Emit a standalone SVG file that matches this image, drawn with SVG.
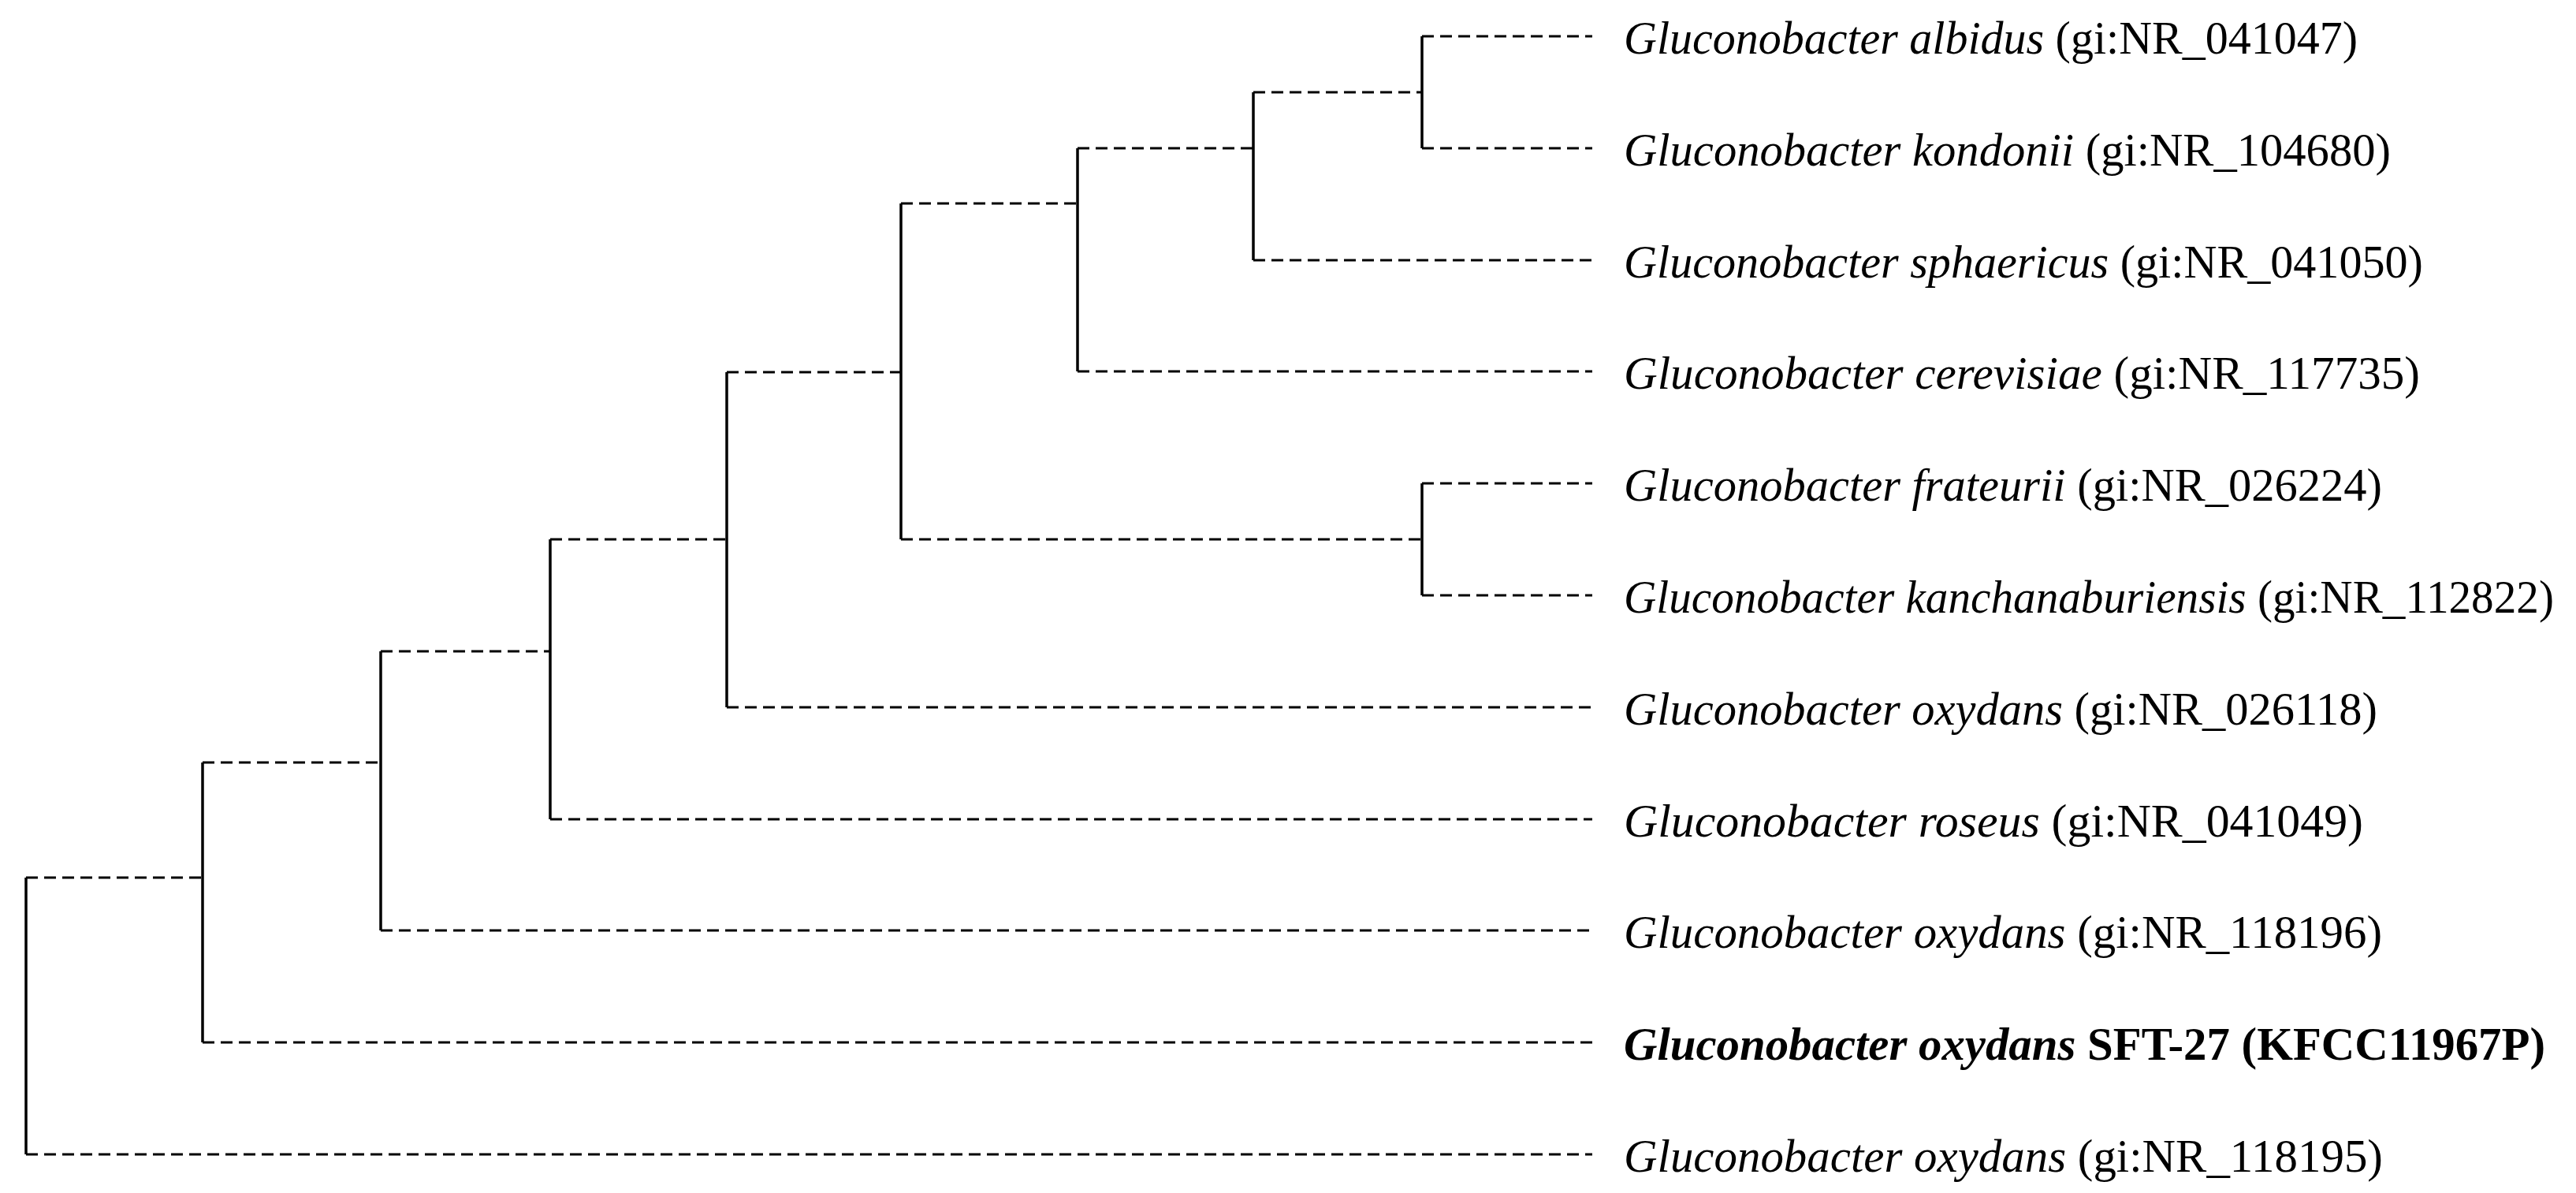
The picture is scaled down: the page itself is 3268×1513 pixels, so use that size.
<svg xmlns="http://www.w3.org/2000/svg" width="3268" height="1513" viewBox="0 0 3268 1513">
<style>
.d{stroke:#000;stroke-width:3;stroke-dasharray:15 8;fill:none}
.s{stroke:#000;stroke-width:3.5;fill:none}
text{font-family:"Liberation Serif","DejaVu Serif",serif;font-size:60px;fill:#000}
.i{font-style:italic}
.b{font-weight:bold}
</style>
<rect width="3268" height="1513" fill="#fff"/>
<g id="connectors">
<path class="s" d="M33 1113V1464M257 967V1322M483 826V1180M698 684V1039M922 472V897M1143 258V684M1367 188V471M1590 117V330M1804 46V188M1804 613V755"/>
<path class="d" d="M33 1113H257M33 1464H2020M257 967H483M257 1322H2020M483 826H698M483 1180H2020M698 684H922M698 1039H2020M922 472H1143M922 897H2020M1143 258H1367M1143 684H1804M1367 188H1590M1367 471H2020M1590 117H1804M1590 330H2020M1804 46H2020M1804 188H2020M1804 613H2020M1804 755H2020"/>
</g>
<g id="leaf1"><text x="2060" y="68" textLength="931" lengthAdjust="spacingAndGlyphs"><tspan class="i">Gluconobacter albidus</tspan> (gi:NR_041047)</text></g>
<g id="leaf2"><text x="2060" y="210" textLength="973" lengthAdjust="spacingAndGlyphs"><tspan class="i">Gluconobacter kondonii</tspan> (gi:NR_104680)</text></g>
<g id="leaf3"><text x="2060" y="352" textLength="1014" lengthAdjust="spacingAndGlyphs"><tspan class="i">Gluconobacter sphaericus</tspan> (gi:NR_041050)</text></g>
<g id="leaf4"><text x="2060" y="493" textLength="1010" lengthAdjust="spacingAndGlyphs"><tspan class="i">Gluconobacter cerevisiae</tspan> (gi:NR_117735)</text></g>
<g id="leaf5"><text x="2060" y="635" textLength="962" lengthAdjust="spacingAndGlyphs"><tspan class="i">Gluconobacter frateurii</tspan> (gi:NR_026224)</text></g>
<g id="leaf6"><text x="2060" y="777" textLength="1180" lengthAdjust="spacingAndGlyphs"><tspan class="i">Gluconobacter kanchanaburiensis</tspan> (gi:NR_112822)</text></g>
<g id="leaf7"><text x="2060" y="919" textLength="956" lengthAdjust="spacingAndGlyphs"><tspan class="i">Gluconobacter oxydans</tspan> (gi:NR_026118)</text></g>
<g id="leaf8"><text x="2060" y="1061" textLength="938" lengthAdjust="spacingAndGlyphs"><tspan class="i">Gluconobacter roseus</tspan> (gi:NR_041049)</text></g>
<g id="leaf9"><text x="2060" y="1202" textLength="962" lengthAdjust="spacingAndGlyphs"><tspan class="i">Gluconobacter oxydans</tspan> (gi:NR_118196)</text></g>
<g id="leaf10"><text class="b" x="2060" y="1344" textLength="1169" lengthAdjust="spacingAndGlyphs"><tspan class="i">Gluconobacter oxydans</tspan> SFT-27 (KFCC11967P)</text></g>
<g id="leaf11"><text x="2060" y="1486" textLength="963" lengthAdjust="spacingAndGlyphs"><tspan class="i">Gluconobacter oxydans</tspan> (gi:NR_118195)</text></g>
</svg>
